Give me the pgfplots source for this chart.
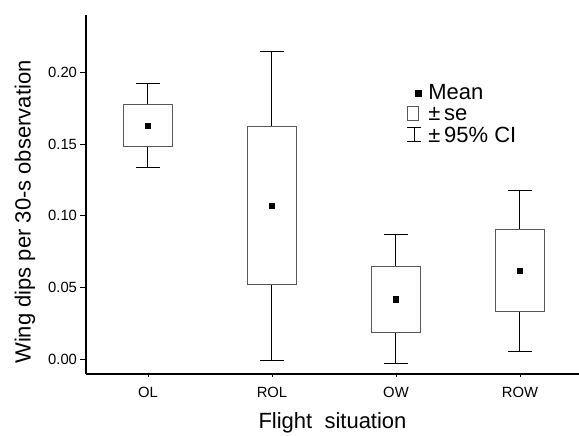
\documentclass[border=0pt]{standalone}
\usepackage{pgfplots}
\pgfplotsset{compat=1.18}
\usepackage{fontspec}
\setmainfont{Liberation Sans}
\begin{document}
\begin{tikzpicture}
\begin{axis}[
  name=ax,
  scale only axis,
  width=493bp, height=359bp,
  xmin=0.5, xmax=4.476,
  ymin=-0.0105, ymax=0.240,
  axis x line*=bottom, axis y line*=left,
  axis line style={line width=1.1bp, black},
  tick align=outside,
  xtick={1,2,3,4},
  xticklabels={OL,ROL,OW,ROW},
  ytick={0,0.05,0.1,0.15,0.2},
  major tick length=6bp,
  xtick style={/pgfplots/major tick length=3bp, line width=0.9bp, black},
  ytick style={line width=0.9bp, black},
  /pgf/number format/.cd, fixed, fixed zerofill, precision=2, assume math mode=true,
  /pgfplots/.cd,
  ticklabel style={font=\fontsize{14.8bp}{17bp}\selectfont},
  yticklabel style={xshift=0.5bp},
  xticklabel style={yshift=-3.5bp},
  xlabel={Flight\ \ situation},
  ylabel={Wing dips per 30-s observation},
  xlabel style={font=\fontsize{22bp}{24bp}\selectfont, at={(axis description cs:0.5,-0.153)}, anchor=base},
  ylabel style={font=\fontsize{22bp}{24bp}\selectfont, at={(axis description cs:-0.1237,0.451)}, anchor=center},
  legend cell align=left,
  legend style={at={(axis description cs:0.6505,0.8106)}, anchor=north west, draw=none, fill=none,
    font=\fontsize{22bp}{23bp}\selectfont, inner sep=0pt, row sep=0pt, column sep=6.5bp,
    nodes={inner sep=0pt, text height=16bp, text depth=5.5bp}},
]
% 95% CI whiskers
\addplot[only marks, mark=none, forget plot,
  error bars/.cd, y dir=both, y explicit, error mark=|,
  error bar style={black, line width=1bp},
  error mark options={black, line width=1bp, mark size=12.4bp}]
  coordinates {
  (1,0.1627) +- (0,0.0293)
  (2,0.1068) +- (0,0.1080)
  (3,0.0417) +- (0,0.0452)
  (4,0.0615) +- (0,0.0560)
  };
% +- se boxes
\addplot[draw=black!65, fill=white, line width=1bp, forget plot] coordinates {(0.8,0.1480) (1.2,0.1480) (1.2,0.1776) (0.8,0.1776)} -- cycle;
\addplot[draw=black!65, fill=white, line width=1bp, forget plot] coordinates {(1.8,0.0517) (2.2,0.0517) (2.2,0.1620) (1.8,0.1620)} -- cycle;
\addplot[draw=black!65, fill=white, line width=1bp, forget plot] coordinates {(2.8,0.0186) (3.2,0.0186) (3.2,0.0644) (2.8,0.0644)} -- cycle;
\addplot[draw=black!65, fill=white, line width=1bp, forget plot] coordinates {(3.8,0.0330) (4.2,0.0330) (4.2,0.0903) (3.8,0.0903)} -- cycle;
% means
\addplot[only marks, mark=square*, mark size=2.7bp, black, forget plot] coordinates {(1,0.1627) (2,0.1068) (3,0.0417) (4,0.0615)};
\addlegendimage{legend image code/.code={\path[draw=none,fill=none] (0,-5.2bp) rectangle (15bp,9.5bp); \fill[black] (8.3bp,-2.55bp) rectangle (14.3bp,3.45bp);}}
\addlegendentry{Mean}
\addlegendimage{legend image code/.code={\path[draw=none,fill=none] (0,-5.2bp) rectangle (15bp,9.5bp); \draw[black!65, line width=1bp, fill=none] (0.5bp,-4.75bp) rectangle (11.6bp,8.75bp);}}
\addlegendentry{±\,se}
\addlegendimage{legend image code/.code={\path[draw=none,fill=none] (0,-5.2bp) rectangle (15bp,9.5bp); \draw[black, line width=1bp, fill=none] (7.5bp,-4.75bp) -- (7.5bp,9bp) (0.5bp,-4.75bp) -- (14.5bp,-4.75bp) (0.5bp,9bp) -- (14.5bp,9bp);}}
\addlegendentry{±\,95\% CI}
\end{axis}
\pgfresetboundingbox
\path ([shift={(-86bp,-62bp)}]ax.south west) rectangle ([shift={(0bp,15bp)}]ax.north east);
\end{tikzpicture}
\end{document}
